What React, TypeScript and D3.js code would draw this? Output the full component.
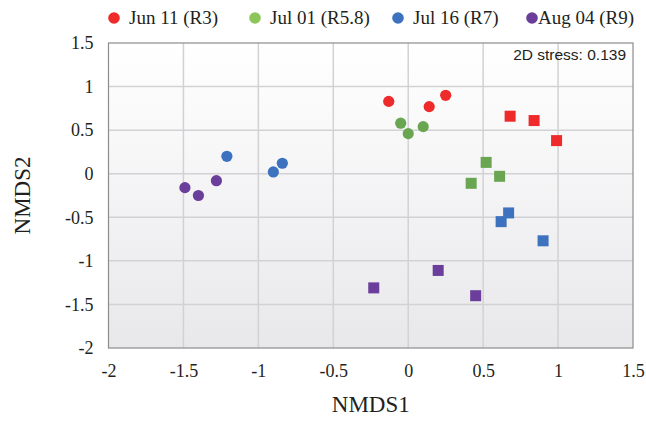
import React, { useEffect, useRef } from "react";
import * as d3 from "d3";

// sampling dates (legend)
const seriesNames = ["Jun 11 (R3)", "Jul 01 (R5.8)", "Jul 16 (R7)", "Aug 04 (R9)"];
const seriesColors = ["#ee2a2a", "#6aa651", "#3d72bf", "#6a3e9a"];
const legendColors = ["#ee2a2a", "#8cc65a", "#3d72bf", "#6a3e9a"];

// circles: [NMDS1, NMDS2]
const jun11Circles = [[-0.13, 0.83], [0.14, 0.77], [0.25, 0.9]];
const jul01Circles = [[-0.05, 0.58], [0.0, 0.46], [0.1, 0.54]];
const jul16Circles = [[-1.21, 0.2], [-0.84, 0.12], [-0.9, 0.02]];
const aug04Circles = [[-1.49, -0.16], [-1.4, -0.25], [-1.28, -0.08]];

// squares: [NMDS1, NMDS2]
const jun11Squares = [[0.68, 0.66], [0.84, 0.61], [0.99, 0.38]];
const jul01Squares = [[0.52, 0.13], [0.61, -0.03], [0.42, -0.11]];
const jul16Squares = [[0.67, -0.45], [0.62, -0.55], [0.9, -0.77]];
const aug04Squares = [[0.2, -1.11], [-0.23, -1.31], [0.45, -1.4]];

const xTicks = [-2, -1.5, -1, -0.5, 0, 0.5, 1, 1.5];
const yTicks = [-2, -1.5, -1, -0.5, 0, 0.5, 1, 1.5];
const stressLabel = "2D stress: 0.139";

function App() {
  const ref = useRef<SVGSVGElement>(null);

  useEffect(() => {
    const width = 646;
    const height = 431;
    const margin = { top: 43, right: 13, bottom: 83, left: 108.5 };
    const innerWidth = width - margin.left - margin.right;
    const innerHeight = height - margin.top - margin.bottom;
    const serif = "'Liberation Serif', 'Times New Roman', serif";
    const sans = "'Liberation Sans', Arial, sans-serif";
    const ink = "#231f20";

    const svg = d3.select(ref.current).attr("width", width).attr("height", height);
    svg.selectAll("*").remove();

    const defs = svg.append("defs");
    const grad = defs.append("linearGradient")
      .attr("id", "bg")
      .attr("x1", 0).attr("y1", 0).attr("x2", 0).attr("y2", 1);
    grad.append("stop").attr("offset", "0%").attr("stop-color", "#ffffff");
    grad.append("stop").attr("offset", "100%").attr("stop-color", "#e8e8eb");

    const xScale = d3.scaleLinear().domain([-2, 1.5]).range([0, innerWidth]);
    const yScale = d3.scaleLinear().domain([-2, 1.5]).range([innerHeight, 0]);

    const g = svg.append("g").attr("transform", `translate(${margin.left}, ${margin.top})`);

    g.append("rect")
      .attr("width", innerWidth)
      .attr("height", innerHeight)
      .attr("fill", "url(#bg)");

    // grid
    g.append("g")
      .selectAll("line")
      .data(xTicks.slice(1, -1))
      .join("line")
      .attr("x1", d => xScale(d)).attr("x2", d => xScale(d))
      .attr("y1", 0).attr("y2", innerHeight)
      .attr("stroke", "#d2d2d4").attr("stroke-width", 1.5);
    g.append("g")
      .selectAll("line")
      .data(yTicks.slice(1, -1))
      .join("line")
      .attr("y1", d => yScale(d)).attr("y2", d => yScale(d))
      .attr("x1", 0).attr("x2", innerWidth)
      .attr("stroke", "#d2d2d4").attr("stroke-width", 1.5);

    g.append("rect")
      .attr("width", innerWidth)
      .attr("height", innerHeight)
      .attr("fill", "none")
      .attr("stroke", "#8c8c8c")
      .attr("stroke-width", 1.2);

    // tick labels
    const xAxis = d3.axisBottom(xScale).tickValues(xTicks).tickSize(0).tickPadding(16)
      .tickFormat(d => String(d));
    const xg = g.append("g").attr("transform", `translate(0, ${innerHeight})`).call(xAxis);
    xg.select(".domain").remove();
    xg.attr("font-family", null).attr("font-size", null);
    xg.selectAll("text").style("font-family", serif).style("font-size", "18px").attr("fill", ink);

    const yAxis = d3.axisLeft(yScale).tickValues(yTicks).tickSize(0).tickPadding(15)
      .tickFormat(d => String(d));
    const yg = g.append("g").call(yAxis);
    yg.select(".domain").remove();
    yg.attr("font-family", null).attr("font-size", null);
    yg.selectAll("text").style("font-family", serif).style("font-size", "18px").attr("fill", ink);

    // points
    const circles = [jun11Circles, jul01Circles, jul16Circles, aug04Circles];
    const squares = [jun11Squares, jul01Squares, jul16Squares, aug04Squares];
    const s = 11;
    circles.forEach((pts, i) => {
      g.append("g")
        .selectAll("circle")
        .data(pts)
        .join("circle")
        .attr("cx", d => xScale(d[0]))
        .attr("cy", d => yScale(d[1]))
        .attr("r", 5.6)
        .attr("fill", seriesColors[i]);
    });
    squares.forEach((pts, i) => {
      g.append("g")
        .selectAll("rect")
        .data(pts)
        .join("rect")
        .attr("x", d => xScale(d[0]) - s / 2)
        .attr("y", d => yScale(d[1]) - s / 2)
        .attr("width", s)
        .attr("height", s)
        .attr("fill", seriesColors[i]);
    });

    // stress annotation
    g.append("text")
      .attr("x", innerWidth - 7)
      .attr("y", 17)
      .attr("text-anchor", "end")
      .style("font-family", sans)
      .style("font-size", "15.5px")
      .attr("fill", ink)
      .text(stressLabel);

    // legend
    const legendX = [114, 255, 398, 532];
    const legend = svg.append("g");
    seriesNames.forEach((name, i) => {
      legend.append("circle")
        .attr("cx", legendX[i])
        .attr("cy", 18)
        .attr("r", 5.8)
        .attr("fill", legendColors[i]);
      legend.append("text")
        .attr("x", legendX[i] + (i === 3 ? 6 : 15))
        .attr("y", 24)
        .style("font-family", serif)
        .style("font-size", "19px")
        .attr("fill", ink)
        .text(name);
    });

    // axis titles
    svg.append("text")
      .attr("x", margin.left + xScale(-0.25))
      .attr("y", 412)
      .attr("text-anchor", "middle")
      .style("font-family", serif)
      .style("font-size", "23px")
      .attr("fill", ink)
      .text("NMDS1");

    svg.append("text")
      .attr("transform", `translate(30, ${margin.top + yScale(-0.25)}) rotate(-90)`)
      .attr("text-anchor", "middle")
      .style("font-family", serif)
      .style("font-size", "23px")
      .attr("fill", ink)
      .text("NMDS2");
  }, []);

  return (
    <svg ref={ref} style={{ position: "absolute", left: 0, top: 0, display: "block" }}></svg>
  );
}

export default App;
